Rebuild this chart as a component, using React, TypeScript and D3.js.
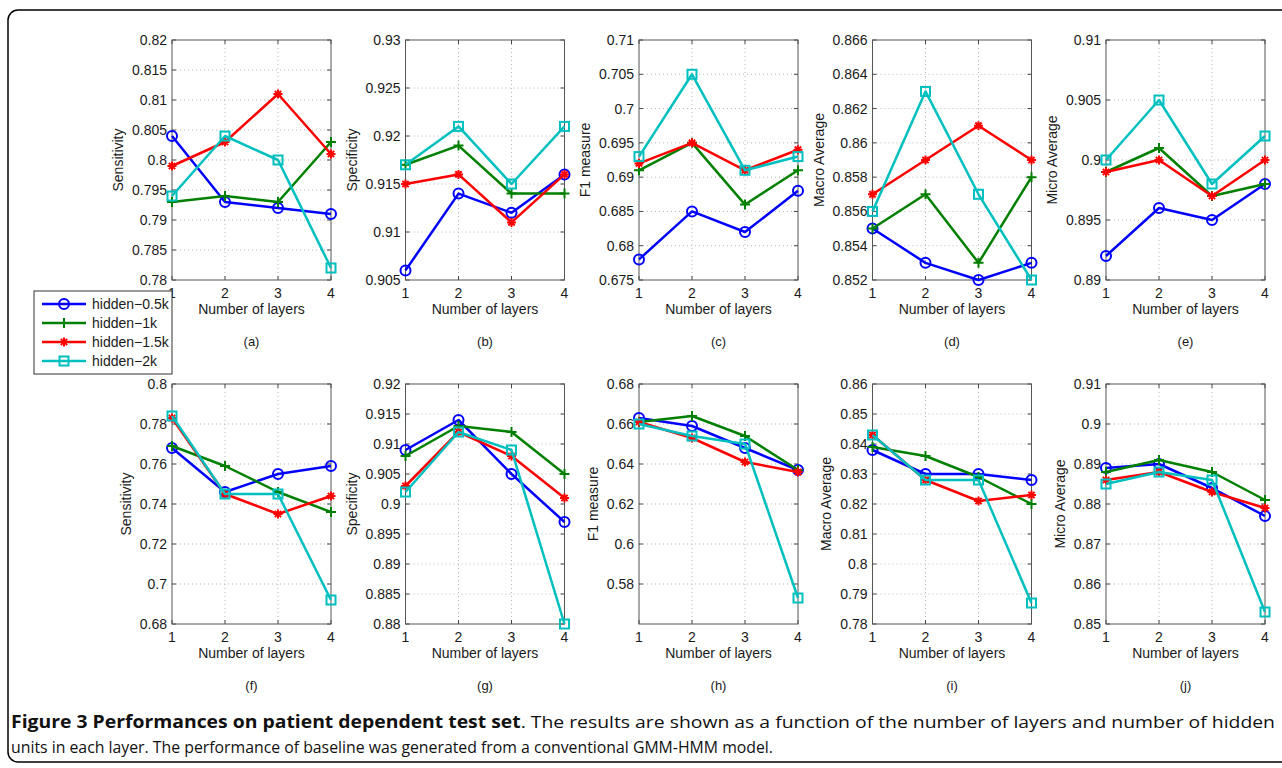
import React from 'react'
import * as d3 from 'd3'

// number of layers on the x axis
const layers = [1, 2, 3, 4]

const seriesNames = ['hidden\u22120.5k', 'hidden\u22121k', 'hidden\u22121.5k', 'hidden\u22122k']
const seriesColors = ['#0000ff', '#008000', '#ff0000', '#00bfbf']
const seriesMarkers = ['circle', 'plus', 'star', 'square']

// each panel: one row per series (0.5k, 1k, 1.5k, 2k), one value per layer count
const sensitivityTop = [
  [0.804, 0.793, 0.792, 0.791],
  [0.793, 0.794, 0.793, 0.803],
  [0.799, 0.803, 0.811, 0.801],
  [0.794, 0.804, 0.8, 0.782],
]
const specificityTop = [
  [0.906, 0.914, 0.912, 0.916],
  [0.917, 0.919, 0.914, 0.914],
  [0.915, 0.916, 0.911, 0.916],
  [0.917, 0.921, 0.915, 0.921],
]
const f1Top = [
  [0.678, 0.685, 0.682, 0.688],
  [0.691, 0.695, 0.686, 0.691],
  [0.692, 0.695, 0.691, 0.694],
  [0.693, 0.705, 0.691, 0.693],
]
const macroTop = [
  [0.855, 0.853, 0.852, 0.853],
  [0.855, 0.857, 0.853, 0.858],
  [0.857, 0.859, 0.861, 0.859],
  [0.856, 0.863, 0.857, 0.852],
]
const microTop = [
  [0.892, 0.896, 0.895, 0.898],
  [0.899, 0.901, 0.897, 0.898],
  [0.899, 0.9, 0.897, 0.9],
  [0.9, 0.905, 0.898, 0.902],
]
const sensitivityBottom = [
  [0.768, 0.746, 0.755, 0.759],
  [0.769, 0.759, 0.746, 0.736],
  [0.783, 0.745, 0.735, 0.744],
  [0.784, 0.745, 0.745, 0.692],
]
const specificityBottom = [
  [0.909, 0.914, 0.905, 0.897],
  [0.908, 0.913, 0.912, 0.905],
  [0.903, 0.912, 0.908, 0.901],
  [0.902, 0.912, 0.909, 0.88],
]
const f1Bottom = [
  [0.663, 0.659, 0.648, 0.637],
  [0.661, 0.664, 0.654, 0.637],
  [0.661, 0.653, 0.641, 0.636],
  [0.66, 0.654, 0.65, 0.573],
]
const macroBottom = [
  [0.838, 0.83, 0.83, 0.828],
  [0.839, 0.836, 0.829, 0.82],
  [0.843, 0.828, 0.821, 0.823],
  [0.843, 0.828, 0.828, 0.787],
]
const microBottom = [
  [0.889, 0.89, 0.884, 0.877],
  [0.888, 0.891, 0.888, 0.881],
  [0.886, 0.888, 0.883, 0.879],
  [0.885, 0.888, 0.886, 0.853],
]

const panelValues = [
  sensitivityTop, specificityTop, f1Top, macroTop, microTop,
  sensitivityBottom, specificityBottom, f1Bottom, macroBottom, microBottom,
]
const panelLetters = ['(a)', '(b)', '(c)', '(d)', '(e)', '(f)', '(g)', '(h)', '(i)', '(j)']
const yLabels = [
  'Sensitivity', 'Specificity', 'F1 measure', 'Macro Average', 'Micro Average',
  'Sensitivity', 'Specificity', 'F1 measure', 'Macro Average', 'Micro Average',
]
const yDomains = [
  [0.78, 0.82], [0.905, 0.93], [0.675, 0.71], [0.852, 0.866], [0.89, 0.91],
  [0.68, 0.8], [0.88, 0.92], [0.56, 0.68], [0.78, 0.86], [0.85, 0.91],
]
const yTicks = [
  [0.78, 0.785, 0.79, 0.795, 0.8, 0.805, 0.81, 0.815, 0.82],
  [0.905, 0.91, 0.915, 0.92, 0.925, 0.93],
  [0.675, 0.68, 0.685, 0.69, 0.695, 0.7, 0.705, 0.71],
  [0.852, 0.854, 0.856, 0.858, 0.86, 0.862, 0.864, 0.866],
  [0.89, 0.895, 0.9, 0.905, 0.91],
  [0.68, 0.7, 0.72, 0.74, 0.76, 0.78, 0.8],
  [0.88, 0.885, 0.89, 0.895, 0.9, 0.905, 0.91, 0.915, 0.92],
  [0.58, 0.6, 0.62, 0.64, 0.66, 0.68],
  [0.78, 0.79, 0.8, 0.81, 0.82, 0.83, 0.84, 0.85, 0.86],
  [0.85, 0.86, 0.87, 0.88, 0.89, 0.9, 0.91],
]

const captionBold = 'Figure 3 Performances on patient dependent test set'
const captionRest = '. The results are shown as a function of the number of layers and number of hidden'
const captionLine2 = 'units in each layer. The performance of baseline was generated from a conventional GMM-HMM model.'

const font = 'Liberation Sans, Arial, Helvetica, sans-serif'
const fmt = (v: number) => String(+v.toFixed(3))

function Marker({ kind, x, y, color }: { kind: string; x: number; y: number; color: string }) {
  if (kind === 'circle') {
    return <circle cx={x} cy={y} r={5} fill="none" stroke={color} strokeWidth={2} />
  }
  if (kind === 'plus') {
    return <path d={`M${x - 5},${y}H${x + 5}M${x},${y - 5}V${y + 5}`} stroke={color} strokeWidth={2} />
  }
  if (kind === 'star') {
    const s = 4.5
    return (
      <path
        d={`M${x - s},${y}H${x + s}M${x},${y - s}V${y + s}M${x - s * 0.7},${y - s * 0.7}L${x + s * 0.7},${y + s * 0.7}M${x - s * 0.7},${y + s * 0.7}L${x + s * 0.7},${y - s * 0.7}`}
        stroke={color}
        strokeWidth={2}
      />
    )
  }
  return <rect x={x - 4.5} y={y - 4.5} width={9} height={9} fill="none" stroke={color} strokeWidth={2} />
}

function Panel({ idx, left, top, w, h }: { idx: number; left: number; top: number; w: number; h: number }) {
  const x = d3.scaleLinear().domain([1, 4]).range([left, left + w])
  const y = d3.scaleLinear().domain(yDomains[idx]).range([top + h, top])
  const line = d3.line<number>().x((_, i) => x(layers[i])).y((d) => y(d))
  const ticks = yTicks[idx]
  const maxChars = d3.max(ticks, (t) => fmt(t).length) || 4
  const labelX = left - (15 + maxChars * 7.8)

  return (
    <g>
      {/* grid */}
      {ticks
        .filter((t) => t > yDomains[idx][0] && t < yDomains[idx][1])
        .map((t) => (
          <line key={'gy' + t} x1={left} x2={left + w} y1={y(t)} y2={y(t)} stroke="#b8b8b8" strokeDasharray="1,3" />
        ))}
      {layers.slice(1, -1).map((l) => (
        <line key={'gx' + l} x1={x(l)} x2={x(l)} y1={top} y2={top + h} stroke="#b8b8b8" strokeDasharray="1,3" />
      ))}
      {/* ticks */}
      {ticks.map((t) => (
        <g key={'ty' + t}>
          <line x1={left} x2={left + 4} y1={y(t)} y2={y(t)} stroke="#444" />
          <line x1={left + w} x2={left + w - 4} y1={y(t)} y2={y(t)} stroke="#444" />
          <text x={left - 5} y={y(t)} textAnchor="end" dominantBaseline="central" fontSize={14} fill="#1a1a1a">
            {fmt(t)}
          </text>
        </g>
      ))}
      {layers.map((l) => (
        <g key={'tx' + l}>
          <line x1={x(l)} x2={x(l)} y1={top + h} y2={top + h - 4} stroke="#444" />
          <line x1={x(l)} x2={x(l)} y1={top} y2={top + 4} stroke="#444" />
          <text x={x(l)} y={top + h + 18} textAnchor="middle" fontSize={14} fill="#1a1a1a">
            {l}
          </text>
        </g>
      ))}
      <rect x={left} y={top} width={w} height={h} fill="none" stroke="#555" strokeWidth={1} />
      {/* series */}
      {panelValues[idx].map((vals, s) => (
        <g key={'s' + s}>
          <path d={line(vals) || ''} fill="none" stroke={seriesColors[s]} strokeWidth={2.5} strokeLinejoin="round" />
          {vals.map((v, i) => (
            <Marker key={i} kind={seriesMarkers[s]} x={x(layers[i])} y={y(v)} color={seriesColors[s]} />
          ))}
        </g>
      ))}
      <text x={left + w / 2} y={top + h + 34} textAnchor="middle" fontSize={14} fill="#1a1a1a">
        Number of layers
      </text>
      <text
        transform={`translate(${labelX},${top + h / 2}) rotate(-90)`}
        textAnchor="middle"
        dominantBaseline="central"
        fontSize={14}
        fill="#1a1a1a"
      >
        {yLabels[idx]}
      </text>
      <text x={left + w / 2} y={top + h + 66} textAnchor="middle" fontSize={13} fill="#1a1a1a">
        {panelLetters[idx]}
      </text>
    </g>
  )
}

function Legend() {
  const ys = [304, 323, 342, 361]
  return (
    <g>
      <rect x={34} y={291} width={138} height={83} fill="#fff" stroke="#333" strokeWidth={1} />
      {seriesNames.map((n, i) => (
        <g key={n}>
          <line x1={42} x2={86} y1={ys[i]} y2={ys[i]} stroke={seriesColors[i]} strokeWidth={2.5} />
          <Marker kind={seriesMarkers[i]} x={64} y={ys[i]} color={seriesColors[i]} />
          <text x={92} y={ys[i]} dominantBaseline="central" fontSize={14} fill="#1a1a1a">
            {n}
          </text>
        </g>
      ))}
    </g>
  )
}

export default function App() {
  const W = 1282
  const H = 768
  const pw = 159
  const lefts = d3.range(5).map((i) => 172 + i * 233.5)
  const tops = [40, 384]
  return (
    <div style={{ position: 'absolute', left: 0, top: 0 }}>
      <svg width={W} height={H} style={{ display: 'block', fontFamily: font }}>
        <rect width={W} height={H} fill="#fff" />
        <rect x={8} y={10} width={W + 20} height={752} rx={10} fill="none" stroke="#000" strokeWidth={1.5} />
        {panelValues.map((_, i) => (
          <Panel key={i} idx={i} left={lefts[i % 5]} top={tops[Math.floor(i / 5)]} w={pw} h={240} />
        ))}
        <Legend />
        <text x={11} y={728} fontSize={17} fontFamily="Open Sans, sans-serif" fill="#111" textLength={1264} lengthAdjust="spacingAndGlyphs">
          <tspan fontWeight="bold">{captionBold}</tspan>
          <tspan>{captionRest}</tspan>
        </text>
        <text x={11} y={753} fontSize={17} fontFamily="Open Sans, sans-serif" fill="#111" textLength={762} lengthAdjust="spacingAndGlyphs">
          {captionLine2}
        </text>
      </svg>
    </div>
  )
}
